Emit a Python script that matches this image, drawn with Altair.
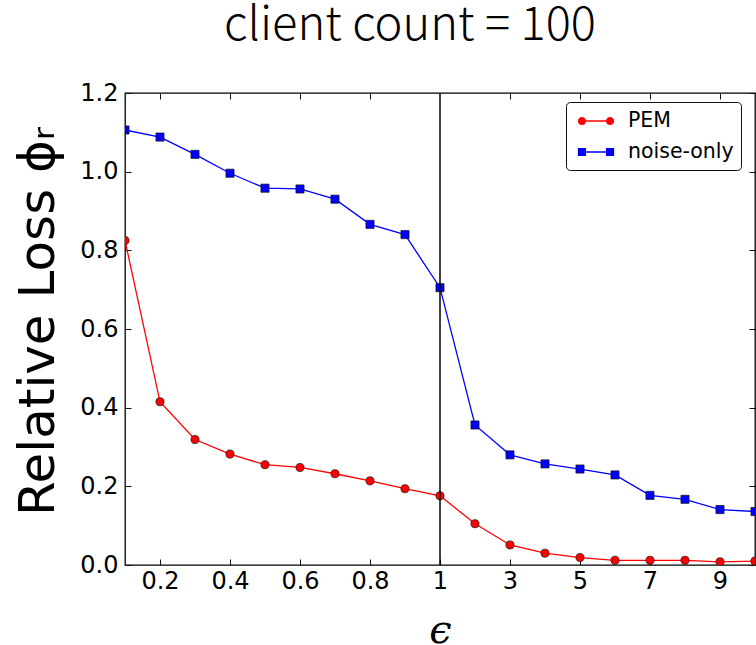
import altair as alt
import pandas as pd

# ---- data ----
eps = [0.1, 0.2, 0.3, 0.4, 0.5, 0.6, 0.7, 0.8, 0.9, 1, 2, 3, 4, 5, 6, 7, 8, 9, 10]
pem = [0.825, 0.415, 0.319, 0.282, 0.255, 0.248, 0.232, 0.214, 0.194, 0.176,
       0.105, 0.051, 0.030, 0.019, 0.012, 0.012, 0.012, 0.008, 0.010]
noise_only = [1.106, 1.088, 1.044, 0.996, 0.958, 0.956, 0.930, 0.866, 0.840, 0.705,
              0.356, 0.280, 0.257, 0.244, 0.229, 0.177, 0.167, 0.141, 0.136]
series_names = ["PEM", "noise-only"]
x_tick_values = [0.2, 0.4, 0.6, 0.8, 1, 3, 5, 7, 9]
x_top_ticks = [0.2, 0.4, 0.6, 0.8, 3, 5, 7, 9]
y_tick_values = [0, 0.2, 0.4, 0.6, 0.8, 1.0, 1.2]
divider_at = [1]

df = pd.DataFrame({
    "eps": eps * 2,
    "loss": pem + noise_only,
    "series": [series_names[0]] * len(eps) + [series_names[1]] * len(eps),
})
div_df = pd.DataFrame({"eps": divider_at})

RED = "#ff0000"
BLUE = "#0000ff"
DARK = "#111111"

W, H = 630, 472
xscale = alt.Scale(domain=[0.1, 1, 10], range=[0, W / 2, W], nice=False, zero=False)
yscale = alt.Scale(domain=[0, 1.2], nice=False, zero=False)

bottom_axis = alt.Axis(
    values=x_tick_values,
    labelExpr="datum.value < 1 ? format(datum.value, '.1f') : format(datum.value, 'd')",
    labelFont="DejaVu Sans", labelFontSize=24, labelColor="black",
    tickSize=6, offset=-6, tickColor=DARK, domain=False, grid=False,
    labelPadding=4, labelFlush=False, labelOverlap=False,
    titleFont="DejaVu Serif", titleFontStyle="italic", titleFontSize=40,
    titleFontWeight="normal", titleColor="black",
    titleBaseline="alphabetic", titleY=83,
)
left_axis = alt.Axis(
    values=y_tick_values, format=".1f",
    labelFont="DejaVu Sans", labelFontSize=24, labelColor="black",
    tickSize=6, offset=-6, tickColor=DARK, domain=False, grid=False,
    labelPadding=7, labelFlush=False, labelOverlap=False,
    titleFont="DejaVu Sans", titleFontSize=50, titleFontWeight="normal",
    titleColor="black", titleBaseline="alphabetic", titleX=-78, titleY=228,
    titleAngle=270,
)
top_axis = alt.Axis(
    orient="top", values=x_top_ticks, labels=False, tickSize=6, offset=-6,
    tickColor=DARK, domain=False, grid=False, title=None,
)
right_axis = alt.Axis(
    orient="right", values=y_tick_values, labels=False, tickSize=6, offset=-6,
    tickColor=DARK, domain=False, grid=False, title=None,
)

base = alt.Chart(df)

def series_layers(name, color, shape, size):
    sub = base.transform_filter(alt.datum.series == name)
    line = sub.mark_line(color=color, strokeWidth=1.3, clip=True).encode(
        x=alt.X("eps:Q", scale=xscale, axis=None),
        y=alt.Y("loss:Q", scale=yscale, axis=None),
    )
    pts = sub.mark_point(shape=shape, filled=True, fill=color, stroke=DARK,
                         strokeWidth=0.7, size=size, opacity=1, clip=True).encode(
        x=alt.X("eps:Q", scale=xscale, axis=None),
        y=alt.Y("loss:Q", scale=yscale, axis=None),
    )
    return line, pts

# main axis-carrying layer (PEM line)
pem_line = base.transform_filter(alt.datum.series == "PEM").mark_line(
    color=RED, strokeWidth=1.3, clip=True).encode(
    x=alt.X("eps:Q", scale=xscale, axis=bottom_axis, title="ϵ"),
    y=alt.Y("loss:Q", scale=yscale, axis=left_axis, title="Relative Loss ϕᵣ"),
)
_, pem_pts = series_layers("PEM", RED, "circle", 66)
noise_line, noise_pts = series_layers("noise-only", BLUE, "square", 66)

divider = alt.Chart(div_df).mark_rule(color="black", strokeWidth=1.5).encode(
    x=alt.X("eps:Q", scale=xscale, axis=None),
)

# legend symbols: line with marker at both ends (unit = sqrt(size)/2 px)
pem_path = ("M-0.83,-0.055L0.83,-0.055L0.83,0.055L-0.83,0.055Z "
            "M-1.51,0A0.34,0.34 0 1,0 -0.83,0A0.34,0.34 0 1,0 -1.51,0Z "
            "M0.83,0A0.34,0.34 0 1,0 1.51,0A0.34,0.34 0 1,0 0.83,0Z")
noise_path = ("M-0.83,-0.055L0.83,-0.055L0.83,0.055L-0.83,0.055Z "
              "M-1.51,-0.34L-0.83,-0.34L-0.83,0.34L-1.51,0.34Z "
              "M0.83,-0.34L1.51,-0.34L1.51,0.34L0.83,0.34Z")

legend_spec = dict(
    title=None, orient="none", legendX=441, legendY=9,
    strokeColor=DARK, fillColor="white", cornerRadius=4, padding=7,
    symbolSize=576, symbolOffset=11, symbolOpacity=1, symbolStrokeWidth=0,
    labelFont="DejaVu Sans", labelFontSize=20.5, labelColor="black",
    labelOffset=20, rowPadding=8,
)

legend_layer = base.transform_filter("false").mark_point(filled=True, opacity=1).encode(
    x=alt.X("eps:Q", scale=xscale, axis=top_axis),
    y=alt.Y("loss:Q", scale=yscale, axis=right_axis),
    color=alt.Color("series:N", scale=alt.Scale(domain=series_names, range=[RED, BLUE]),
                    legend=alt.Legend(**legend_spec)),
    shape=alt.Shape("series:N", scale=alt.Scale(domain=series_names, range=[pem_path, noise_path]),
                    legend=alt.Legend(**legend_spec)),
)

chart = alt.layer(
    pem_line, pem_pts, noise_line, noise_pts, divider, legend_layer
).resolve_axis(
    x="independent", y="independent"
).properties(
    width=W, height=H,
    title=alt.Title("client count = 100", font="Noto Sans CJK SC", fontSize=47,
                    fontWeight=300, color="black", anchor="middle", dx=-30, dy=16,
                    baseline="alphabetic", offset=10),
    padding={"left": 125, "top": 93, "right": 1, "bottom": 80},
    autosize=alt.AutoSizeParams(type="none"),
    background="white",
).configure_view(
    stroke="black", strokeWidth=1.3
)

chart.save("out.html", embed_options={"renderer": "svg", "actions": False})
